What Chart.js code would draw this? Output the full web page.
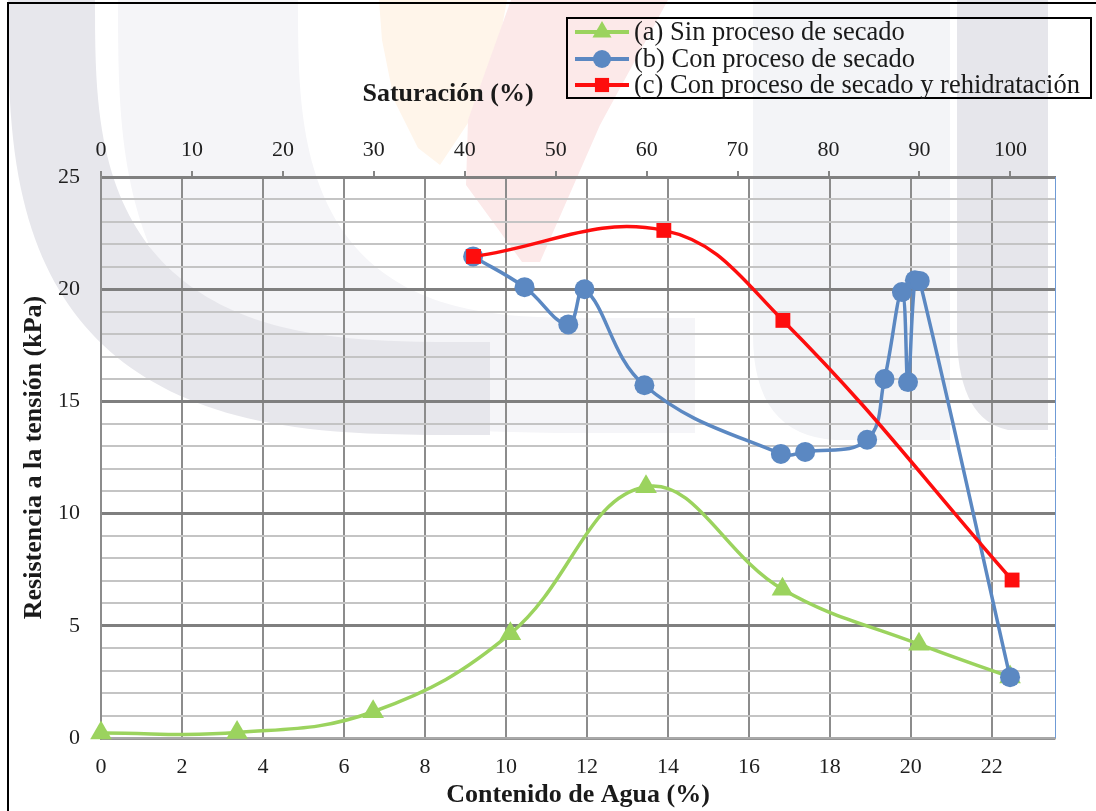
<!DOCTYPE html>
<html>
<head>
<meta charset="utf-8">
<script src="https://cdn.jsdelivr.net/npm/chart.js@4.4.1/dist/chart.umd.min.js"></script>
<style>
  html, body { margin: 0; padding: 0; background: #ffffff; }
  #wrap { width: 1096px; height: 811px; position: relative; overflow: hidden; }
</style>
</head>
<body>
<div id="wrap"><canvas id="chart" width="1096" height="811"></canvas></div>
<script>
// (a) Sin proceso de secado
const waterA = [0, 3.36, 6.72, 10.11, 13.46, 16.83, 20.2, 22.45];
const strengthA = [0.22, 0.24, 1.17, 4.65, 11.2, 6.63, 4.18, 2.72];

// (b) Con proceso de secado
const waterB = [9.19, 10.46, 11.54, 11.94, 13.42, 16.79, 17.39, 18.92, 19.35, 19.78, 19.93, 20.1, 20.22, 22.45];
const strengthB = [21.46, 20.09, 18.43, 20.0, 15.72, 12.66, 12.75, 13.29, 16.0, 19.87, 15.86, 20.4, 20.37, 2.71];

// (c) Con proceso de secado y rehidratación
const waterC = [9.2, 13.9, 16.84, 22.5];
const strengthC = [21.46, 22.62, 18.61, 7.04];

const seriesLabels = [
  '(a) Sin proceso de secado',
  '(b) Con proceso de secado',
  '(c) Con proceso de secado y rehidratación'
];

// Axis ranges and tick steps
const waterTicksStep = 2;       // Contenido de Agua (%)
const waterMax = 23.56;
const saturationTicksStep = 10; // Saturación (%)
const saturationMax = 104.9;
const strengthMax = 25;         // Resistencia a la tensión (kPa)

const SERIF = '"Liberation Serif", "Times New Roman", Times, serif';
const GREEN = '#9bd35e';
const BLUE = '#5b88c2';
const RED = '#fe0d0d';

function pairs(xs, ys) {
  return xs.map((x, i) => ({ x: x, y: ys[i] }));
}

// Faded emblem behind the plot
function superQuadrant(cx, cy, a, b, n, steps) {
  const pts = [];
  for (let i = 0; i <= steps; i++) {
    const t = (Math.PI / 2) * i / steps;
    const c = Math.pow(Math.cos(t), 2 / n);
    const s = Math.pow(Math.sin(t), 2 / n);
    pts.push([cx - a * c, cy + b * s]);
  }
  return pts;
}

function bandPath(ctx, cx, cy, ao, bo, ai, bi, n, xEnd) {
  const outer = superQuadrant(cx, cy, ao, bo, n, 60);
  const inner = superQuadrant(cx, cy, ai, bi, n, 60).reverse();
  ctx.beginPath();
  ctx.moveTo(outer[0][0], outer[0][1]);
  outer.forEach(p => ctx.lineTo(p[0], p[1]));
  ctx.lineTo(xEnd, cy + bo);
  ctx.lineTo(xEnd, cy + bi);
  inner.forEach(p => ctx.lineTo(p[0], p[1]));
  ctx.closePath();
}

const emblemPlugin = {
  id: 'emblem',
  beforeDraw(chart) {
    const ctx = chart.ctx;
    ctx.save();
    // light grey band
    ctx.fillStyle = '#f5f5f8';
    bandPath(ctx, 600, 0, 482, 433, 302, 318, 3, 695);
    ctx.fill();
    // darker grey band
    ctx.fillStyle = '#e7e7ec';
    bandPath(ctx, 470, 0, 462, 435, 375, 342, 3, 490);
    ctx.fill();
    // warm wedge
    ctx.fillStyle = '#fff5ea';
    ctx.beginPath();
    ctx.moveTo(379, 0); ctx.lineTo(507, 0); ctx.lineTo(496, 60);
    ctx.lineTo(470, 120); ctx.lineTo(440, 165); ctx.lineTo(418, 148);
    ctx.lineTo(394, 100); ctx.lineTo(382, 40);
    ctx.closePath(); ctx.fill();
    // red wedge
    ctx.fillStyle = '#fce9e9';
    ctx.beginPath();
    ctx.moveTo(511, 0); ctx.lineTo(668, 0); ctx.lineTo(600, 125);
    ctx.lineTo(540, 262); ctx.lineTo(522, 262); ctx.lineTo(466, 185);
    ctx.lineTo(468, 120);
    ctx.closePath(); ctx.fill();
    // right columns
    ctx.fillStyle = '#f3f4f7';
    ctx.beginPath();
    ctx.moveTo(753, 0); ctx.lineTo(950, 0); ctx.lineTo(950, 440);
    ctx.lineTo(835, 440); ctx.quadraticCurveTo(753, 435, 753, 335);
    ctx.closePath(); ctx.fill();
    ctx.fillStyle = '#e6e6eb';
    ctx.beginPath();
    ctx.moveTo(957, 0); ctx.lineTo(1048, 0); ctx.lineTo(1048, 430);
    ctx.lineTo(1008, 430); ctx.quadraticCurveTo(960, 420, 957, 340);
    ctx.closePath(); ctx.fill();
    ctx.restore();
  }
};

function drawMarker(ctx, style, radius, x, y, color) {
  ctx.save();
  ctx.fillStyle = color;
  ctx.beginPath();
  if (style === 'triangle') {
    for (let k = 0; k < 3; k++) {
      const a = k * 2 * Math.PI / 3;
      const px = x + Math.sin(a) * radius, py = y - Math.cos(a) * radius;
      if (k === 0) ctx.moveTo(px, py); else ctx.lineTo(px, py);
    }
    ctx.closePath();
  } else if (style === 'rect') {
    const s = Math.SQRT1_2 * radius;
    ctx.rect(x - s, y - s, 2 * s, 2 * s);
  } else {
    ctx.arc(x, y, radius, 0, Math.PI * 2);
  }
  ctx.fill();
  ctx.restore();
}

const overlayPlugin = {
  id: 'overlay',
  afterDraw(chart) {
    const ctx = chart.ctx;
    const area = chart.chartArea;
    ctx.save();

    // right edge of the plot
    ctx.strokeStyle = '#6f9bd6';
    ctx.lineWidth = 1;
    ctx.beginPath();
    ctx.moveTo(area.right + 0.5, area.top);
    ctx.lineTo(area.right + 0.5, area.bottom);
    ctx.stroke();

    // secondary axis title
    ctx.fillStyle = '#1a1a1a';
    ctx.font = 'bold 26px ' + SERIF;
    ctx.textAlign = 'center';
    ctx.textBaseline = 'middle';
    ctx.fillText('Saturación (%)', 448, 94);

    // legend
    const box = { x: 567, y: 18, w: 524, h: 80 };
    ctx.strokeStyle = '#000000';
    ctx.lineWidth = 2;
    ctx.strokeRect(box.x, box.y, box.w, box.h);
    const rows = [32, 59, 85];
    ctx.font = '26.5px ' + SERIF;
    ctx.textAlign = 'left';
    chart.data.datasets.forEach((ds, i) => {
      const y = rows[i];
      ctx.strokeStyle = ds.borderColor;
      ctx.lineWidth = 4;
      ctx.beginPath();
      ctx.moveTo(575, y);
      ctx.lineTo(629, y);
      ctx.stroke();
      drawMarker(ctx, ds.pointStyle, ds.legendRadius, 602, y, ds.pointBackgroundColor);
      ctx.fillStyle = '#1a1a1a';
      ctx.fillText(ds.label, 634, y + 1);
    });

    // outer frame
    ctx.strokeStyle = '#000000';
    ctx.lineWidth = 2;
    ctx.beginPath();
    ctx.moveTo(8, 1200);
    ctx.lineTo(8, 3);
    ctx.lineTo(1200, 3);
    ctx.stroke();
    ctx.restore();
  }
};

Chart.defaults.font.family = SERIF;
Chart.defaults.color = '#1f1f1f';

new Chart(document.getElementById('chart'), {
  type: 'line',
  data: {
    datasets: [
      {
        label: seriesLabels[0],
        data: pairs(waterA, strengthA),
        borderColor: GREEN,
        backgroundColor: GREEN,
        pointBackgroundColor: GREEN,
        pointBorderColor: GREEN,
        pointStyle: 'triangle',
        pointRadius: 12.5,
        legendRadius: 11,
        pointBorderWidth: 0,
        borderWidth: 3.5,
        tension: 0.4,
        clip: false,
        order: 3
      },
      {
        label: seriesLabels[1],
        data: pairs(waterB, strengthB),
        borderColor: BLUE,
        backgroundColor: BLUE,
        pointBackgroundColor: BLUE,
        pointBorderColor: BLUE,
        pointStyle: 'circle',
        pointRadius: 10,
        legendRadius: 9,
        pointBorderWidth: 0,
        borderWidth: 3.5,
        tension: 0.4,
        clip: false,
        order: 2
      },
      {
        label: seriesLabels[2],
        data: pairs(waterC, strengthC),
        borderColor: RED,
        backgroundColor: RED,
        pointBackgroundColor: RED,
        pointBorderColor: RED,
        pointStyle: 'rect',
        pointRadius: 10.5,
        legendRadius: 10,
        pointBorderWidth: 0,
        borderWidth: 3.5,
        tension: 0.4,
        clip: false,
        order: 1
      }
    ]
  },
  options: {
    responsive: false,
    devicePixelRatio: 1,
    animation: false,
    events: [],
    layout: { padding: { left: 0, top: 0, right: 41, bottom: 0 } },
    plugins: {
      legend: { display: false },
      tooltip: { enabled: false }
    },
    scales: {
      x: {
        type: 'linear',
        position: 'bottom',
        min: 0,
        max: waterMax,
        afterFit(scale) { scale.height = 73; },
        ticks: {
          stepSize: waterTicksStep,
          includeBounds: false,
          autoSkip: false,
          maxRotation: 0,
          padding: 16,
          color: '#1f1f1f',
          font: { size: 22, family: SERIF }
        },
        grid: { color: '#8c8c8c', lineWidth: 2, drawTicks: false },
        border: { display: true, color: '#a9a9a9', width: 2.5 },
        title: {
          display: true,
          text: 'Contenido de Agua (%)',
          color: '#1a1a1a',
          font: { size: 26, weight: 'bold', family: SERIF },
          padding: { top: 0, bottom: 0 }
        }
      },
      x2: {
        type: 'linear',
        position: 'top',
        min: 0,
        max: saturationMax,
        afterFit(scale) { scale.height = 177; },
        ticks: {
          stepSize: saturationTicksStep,
          includeBounds: false,
          autoSkip: false,
          maxRotation: 0,
          padding: 8,
          color: '#1f1f1f',
          font: { size: 22, family: SERIF }
        },
        grid: { drawOnChartArea: false, drawTicks: true, tickLength: 6, color: '#858585', lineWidth: 2 },
        border: { display: true, color: '#808080', width: 3 }
      },
      y: {
        type: 'linear',
        position: 'left',
        min: 0,
        max: strengthMax,
        afterFit(scale) { scale.width = 101; },
        ticks: {
          stepSize: 1,
          autoSkip: false,
          padding: 21,
          color: '#1f1f1f',
          font: { size: 22, family: SERIF },
          callback: v => (v % 5 === 0 ? v : '')
        },
        grid: {
          drawTicks: false,
          color: c => (c.tick && c.tick.value % 5 === 0 ? '#7f7f7f' : '#c4c4c4'),
          lineWidth: c => (c.tick && c.tick.value % 5 === 0 ? 3 : 2)
        },
        border: { display: true, color: '#8c8c8c', width: 2 },
        title: {
          display: true,
          text: 'Resistencia a la tensión (kPa)',
          color: '#1a1a1a',
          font: { size: 26, weight: 'bold', family: SERIF },
          padding: { top: 19, bottom: 0 }
        }
      }
    }
  },
  plugins: [emblemPlugin, overlayPlugin]
});
</script>
</body>
</html>
